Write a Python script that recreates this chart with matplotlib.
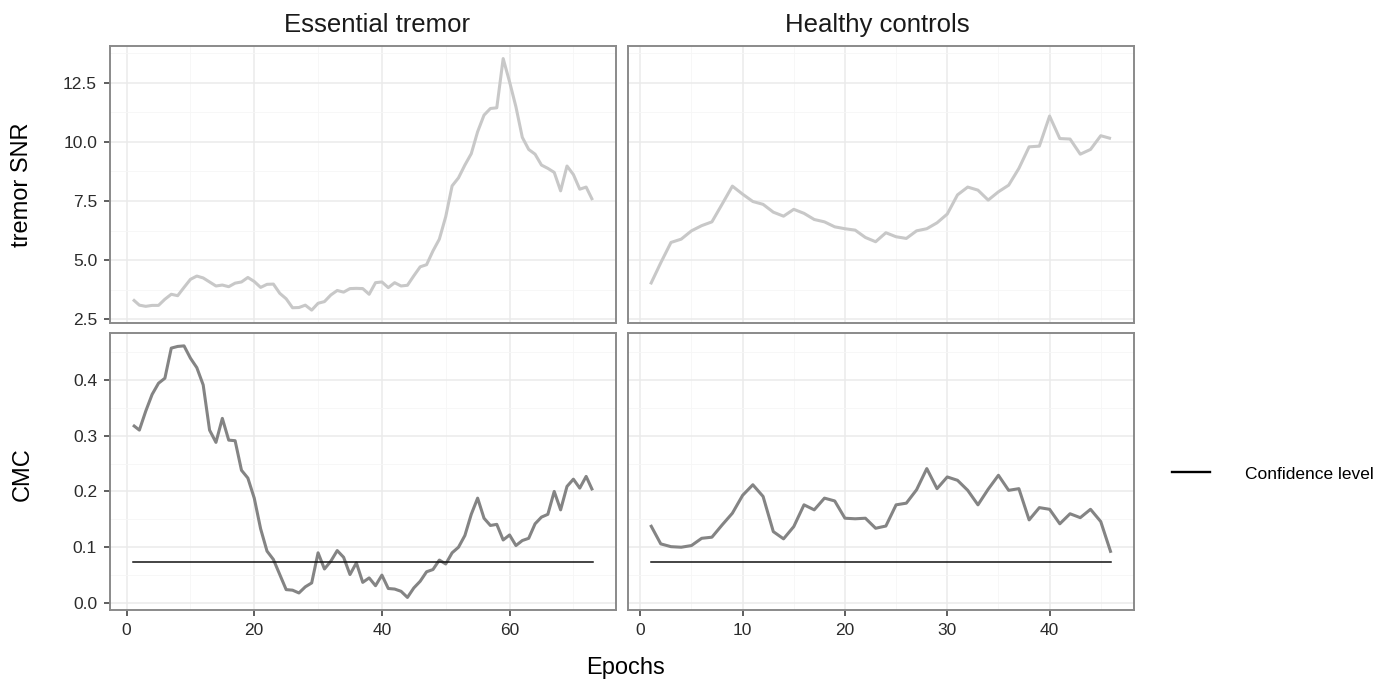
import numpy as np
import matplotlib.pyplot as plt
from matplotlib.ticker import MultipleLocator, FormatStrFormatter

plt.rcParams['font.family'] = ['Liberation Sans', 'DejaVu Sans']

groups = ['Essential tremor', 'Healthy controls']

# tremor SNR per epoch
et_snr = [3.34, 3.10, 3.05, 3.09, 3.09, 3.35, 3.56, 3.50, 3.85, 4.19,
          4.33, 4.25, 4.08, 3.91, 3.95, 3.88, 4.03, 4.08, 4.27, 4.10,
          3.85, 3.98, 3.99, 3.60, 3.37, 2.99, 3.00, 3.10, 2.89, 3.18,
          3.25, 3.53, 3.72, 3.65, 3.80, 3.81, 3.80, 3.56, 4.05, 4.08,
          3.84, 4.05, 3.91, 3.94, 4.34, 4.72, 4.81, 5.39, 5.89, 6.84,
          8.14, 8.48, 9.02, 9.50, 10.43, 11.13, 11.41, 11.44, 13.52, 12.54,
          11.48, 10.19, 9.68, 9.48, 9.02, 8.88, 8.71, 7.93, 8.98, 8.62,
          8.00, 8.09, 7.54]
hc_snr = [3.98, 4.89, 5.75, 5.89, 6.24, 6.46, 6.62, 7.37, 8.13, 7.79,
          7.48, 7.36, 7.03, 6.86, 7.15, 6.98, 6.72, 6.62, 6.41, 6.33,
          6.27, 5.96, 5.78, 6.16, 5.99, 5.92, 6.24, 6.33, 6.58, 6.95,
          7.76, 8.09, 7.96, 7.54, 7.89, 8.17, 8.88, 9.79, 9.82, 11.09,
          10.14, 10.12, 9.48, 9.68, 10.26, 10.14]

# corticomuscular coherence per epoch
et_cmc = [0.319, 0.310, 0.344, 0.374, 0.394, 0.403, 0.457, 0.460, 0.461, 0.439,
          0.422, 0.391, 0.310, 0.288, 0.331, 0.292, 0.291, 0.238, 0.224, 0.188,
          0.133, 0.093, 0.078, 0.051, 0.024, 0.023, 0.018, 0.029, 0.036, 0.090,
          0.061, 0.075, 0.094, 0.082, 0.051, 0.072, 0.037, 0.045, 0.031, 0.050,
          0.026, 0.025, 0.021, 0.010, 0.027, 0.039, 0.056, 0.060, 0.077, 0.070,
          0.090, 0.100, 0.121, 0.159, 0.188, 0.152, 0.139, 0.141, 0.113, 0.122,
          0.103, 0.112, 0.116, 0.142, 0.154, 0.159, 0.200, 0.167, 0.209, 0.222,
          0.206, 0.227, 0.202]
hc_cmc = [0.140, 0.106, 0.101, 0.100, 0.103, 0.116, 0.118, 0.140, 0.161, 0.193,
          0.212, 0.191, 0.128, 0.115, 0.137, 0.176, 0.167, 0.188, 0.183, 0.152,
          0.151, 0.152, 0.134, 0.138, 0.176, 0.179, 0.203, 0.241, 0.205, 0.226,
          0.220, 0.202, 0.176, 0.204, 0.229, 0.202, 0.205, 0.149, 0.171, 0.168,
          0.142, 0.160, 0.153, 0.168, 0.146, 0.090]

conf_level = [0.0734, 0.0734]

snr = [et_snr, hc_snr]
cmc = [et_cmc, hc_cmc]
x_major = [20, 10]

W, H = 1396, 679
fig = plt.figure(figsize=(W / 100, H / 100), dpi=100)


def rect(x0, y0, x1, y1):
    return [x0 / W, 1 - y1 / H, (x1 - x0) / W, (y1 - y0) / H]


def expand(vals, f=0.05):
    lo, hi = min(vals), max(vals)
    d = (hi - lo) * f
    return lo - d, hi + d


cols = [(110, 615.5), (627.5, 1134)]
rows = [(46, 322.7), (333.3, 610)]

snr_lim = expand(et_snr + hc_snr)
cmc_lim = expand(et_cmc + hc_cmc)

conf_handle = None
for j in range(2):
    ep = np.arange(1, len(snr[j]) + 1)
    for i in range(2):
        ax = fig.add_axes(rect(cols[j][0], rows[i][0], cols[j][1], rows[i][1]))
        if i == 0:
            ax.plot(ep, snr[j], color='#c8c8c8', lw=2.2,
                    solid_joinstyle='round', solid_capstyle='butt')
            ax.set_ylim(snr_lim)
            ax.yaxis.set_major_locator(MultipleLocator(2.5))
            ax.yaxis.set_minor_locator(MultipleLocator(1.25))
        else:
            ax.plot(ep, cmc[j], color='#848484', lw=2.2,
                    solid_joinstyle='round', solid_capstyle='butt')
            conf_handle, = ax.plot([ep[0], ep[-1]], [conf_level[j]] * 2,
                                   color='#111111', lw=1.1)
            ax.set_ylim(cmc_lim)
            ax.yaxis.set_major_locator(MultipleLocator(0.1))
            ax.yaxis.set_minor_locator(MultipleLocator(0.05))
        ax.set_xlim(expand(list(ep)))
        ax.xaxis.set_major_locator(MultipleLocator(x_major[j]))
        ax.xaxis.set_minor_locator(MultipleLocator(x_major[j] / 2))
        ax.yaxis.set_major_formatter(FormatStrFormatter('%.1f'))

        ax.set_axisbelow(True)
        ax.grid(which='major', color='#ebebeb', lw=1.1)
        ax.grid(which='minor', color='#f6f6f6', lw=0.6)
        for s in ax.spines.values():
            s.set_color('#8a8a8a')
            s.set_linewidth(1.4)
        ax.tick_params(which='major', length=4.3, width=1.1, color='#333333',
                       labelsize=12.5, labelcolor='#2b2b2b', pad=5)
        ax.tick_params(which='minor', length=0)
        if i == 0:
            ax.tick_params(axis='x', which='both', bottom=False, labelbottom=False)
        if j == 1:
            ax.tick_params(axis='y', which='both', left=False, labelleft=False)

# strip titles
fig.text(284 / W, 1 - 31.7 / H, groups[0], fontsize=18.5, color='#1a1a1a',
         ha='left', va='baseline')
fig.text(785 / W, 1 - 31.7 / H, groups[1], fontsize=18.5, color='#1a1a1a',
         ha='left', va='baseline')

# axis titles
fig.text(22.5 / W, 1 - 184.5 / H, 'tremor SNR', fontsize=17, rotation=90,
         ha='center', va='center')
fig.text(22.5 / W, 1 - 474 / H, 'CMC', fontsize=17, rotation=90,
         ha='center', va='center')
fig.text(625 / W, 1 - 674 / H, 'Epochs', fontsize=17, ha='center', va='baseline')

leg = fig.legend([conf_handle], ['Confidence level'], loc='center left',
                 bbox_to_anchor=(1172 / W, 1 - 474 / H), frameon=False,
                 borderpad=0, borderaxespad=0, fontsize=12.5,
                 handlelength=2.2, handletextpad=2.0)
leg.get_lines()[0].set_linewidth(1.7)
leg.get_lines()[0].set_color('#000000')

fig.savefig('out.png', dpi=100)
